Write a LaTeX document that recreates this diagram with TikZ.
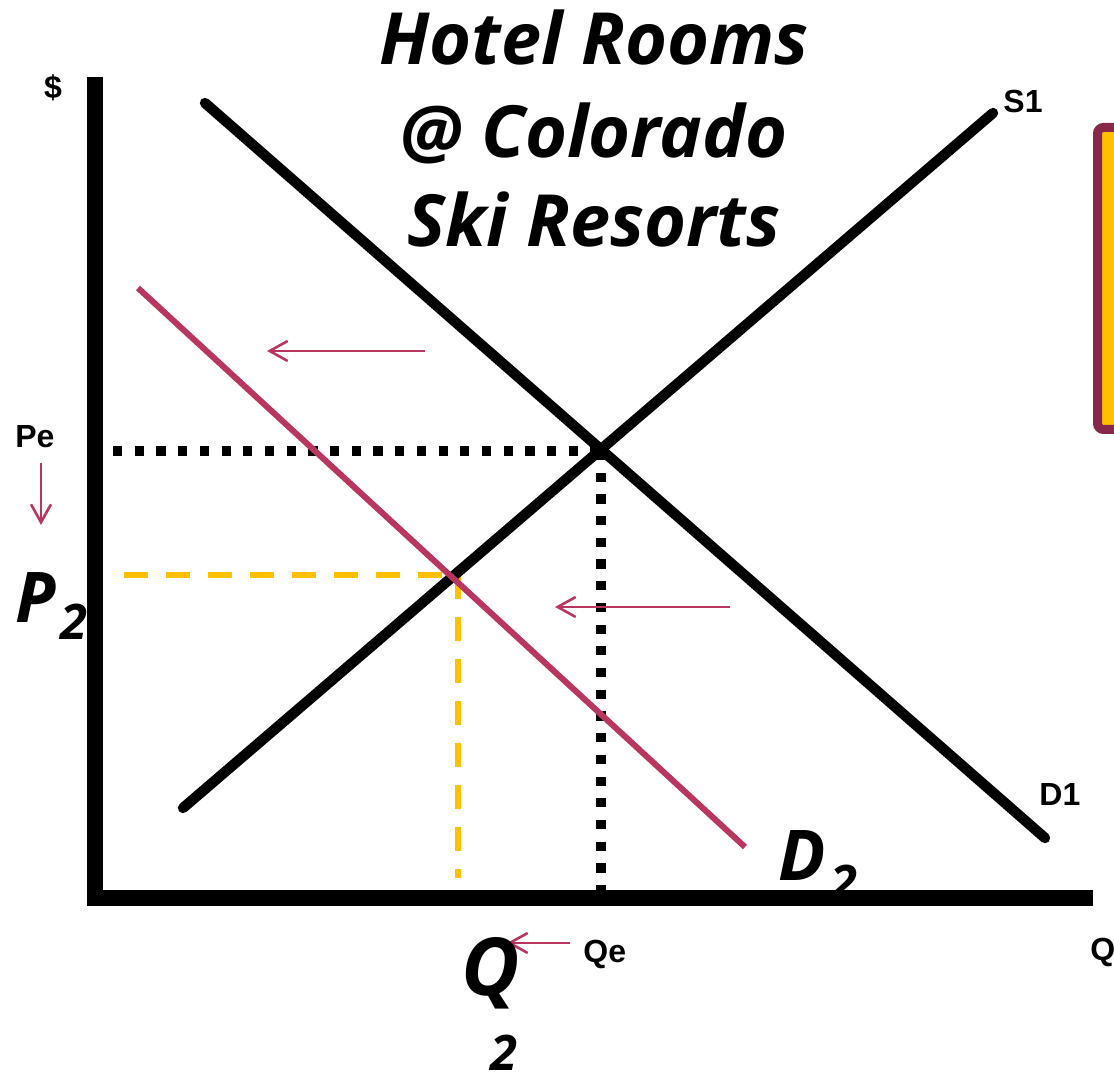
\documentclass[tikz,border=0pt]{standalone}
\usepackage{fontspec}
\setmainfont{Open Sans}
\newfontfamily\lblfont{Liberation Sans}
\usetikzlibrary{arrows.meta}
\definecolor{dmag}{RGB}{185,55,95}
\definecolor{gold}{RGB}{255,192,0}
\definecolor{boxrim}{RGB}{135,40,75}
\tikzset{
  axisline/.style={line width=8pt, line join=miter},
  curve/.style={line width=5.2pt, line cap=round},
  newcurve/.style={line width=3pt, dmag},
  shiftarrow/.style={line width=1.3pt, dmag, -{Straight Barb[length=9pt,width=10pt]}},
  blackdots/.style={line width=4.6pt, dash pattern=on 4.6pt off 6.25pt},
  golddash/.style={line width=3pt, gold, dash pattern=on 12pt off 9pt},
  smalllbl/.style={inner sep=0pt, font=\lblfont\bfseries\fontsize{16}{16}\selectfont},
  titlelbl/.style={inner sep=0pt, anchor=base, font=\bfseries\itshape\fontsize{36}{36}\selectfont},
  biglbl/.style={inner sep=0pt, anchor=base west, font=\bfseries\itshape\fontsize{35}{35}\selectfont},
  sublbl/.style={inner sep=0pt, anchor=base west, font=\bfseries\itshape\fontsize{24.5}{24.5}\selectfont}
}
\begin{document}
\begin{tikzpicture}[x=0.5pt,y=-0.5pt]
\useasboundingbox (0,0) rectangle (1114,1079);
\begin{scope}
\clip (0,0) rectangle (1114,1079);
\draw[boxrim, line width=4.5pt, fill=gold, rounded corners=3pt] (1097.5,127.5) rectangle (1150,429.5);
\end{scope}

% coordinates
\coordinate (ytop) at (95,77);
\coordinate (origin) at (95,898);
\coordinate (xend) at (1093,898);
\coordinate (d1a) at (205,103);
\coordinate (d1b) at (1045,838);
\coordinate (s1a) at (183,808);
\coordinate (s1b) at (993,113);
\coordinate (d2a) at (138,288);
\coordinate (d2b) at (745,847);
\coordinate (eq) at (601,451);
\coordinate (pe0) at (113,451);
\coordinate (qe0) at (601,893);
\coordinate (e2) at (458,575);
\coordinate (p20) at (124,575);
\coordinate (q20) at (458,878);
\coordinate (a1s) at (425,351);
\coordinate (a1e) at (267,351);
\coordinate (a2s) at (730,607);
\coordinate (a2e) at (555,607);
\coordinate (a3s) at (41,463);
\coordinate (a3e) at (41,525);
\coordinate (a4s) at (570,943);
\coordinate (a4e) at (507,943);

% guides
\draw[blackdots] (pe0) -- (eq);
\draw[blackdots] (eq) -- (qe0);
\draw[golddash] (p20) -- (e2);
\draw[golddash] (e2) -- (q20);

% curves
\draw[curve] (d1a) -- (d1b);
\draw[curve] (s1a) -- (s1b);
\draw[newcurve] (d2a) -- (d2b);

% axes
\draw[axisline] (ytop) -- (origin) -- (xend);

% shift arrows
\draw[shiftarrow] (a1s) -- (a1e);
\draw[shiftarrow] (a2s) -- (a2e);
\draw[shiftarrow] (a3s) -- (a3e);
\draw[shiftarrow] (a4s) -- (a4e);

% title
\node[titlelbl] (t1) at (594,65) {Hotel Rooms};
\node[titlelbl] (t2) at (594,158) {@ Colorado};
\node[titlelbl] (t3) at (594,247) {Ski Resorts};

% small labels
\node[smalllbl] (dollar) at (53,88) {\$};
\node[smalllbl, anchor=base west] (s1lbl) at (1003,113) {S1};
\node[smalllbl, anchor=base west] (pelbl) at (15,448) {Pe};
\node[smalllbl, anchor=base west] (d1lbl) at (1039,805) {D1};
\node[smalllbl, anchor=base west] (qlbl) at (1090,960) {Q};
\node[smalllbl, anchor=base west] (qelbl) at (583,962) {Qe};

% big labels
\node[biglbl] (p2) at (15,623) {P};
\node[sublbl] (p2s) at (60,640) {2};
\node[biglbl] (d2) at (778,880) {D};
\node[sublbl] (d2s) at (830,900) {2};
\node[biglbl, font=\bfseries\itshape\fontsize{40}{40}\selectfont] (q2) at (461,995) {Q};
\node[sublbl] (q2s) at (490,1070) {2};
\end{tikzpicture}
\end{document}
